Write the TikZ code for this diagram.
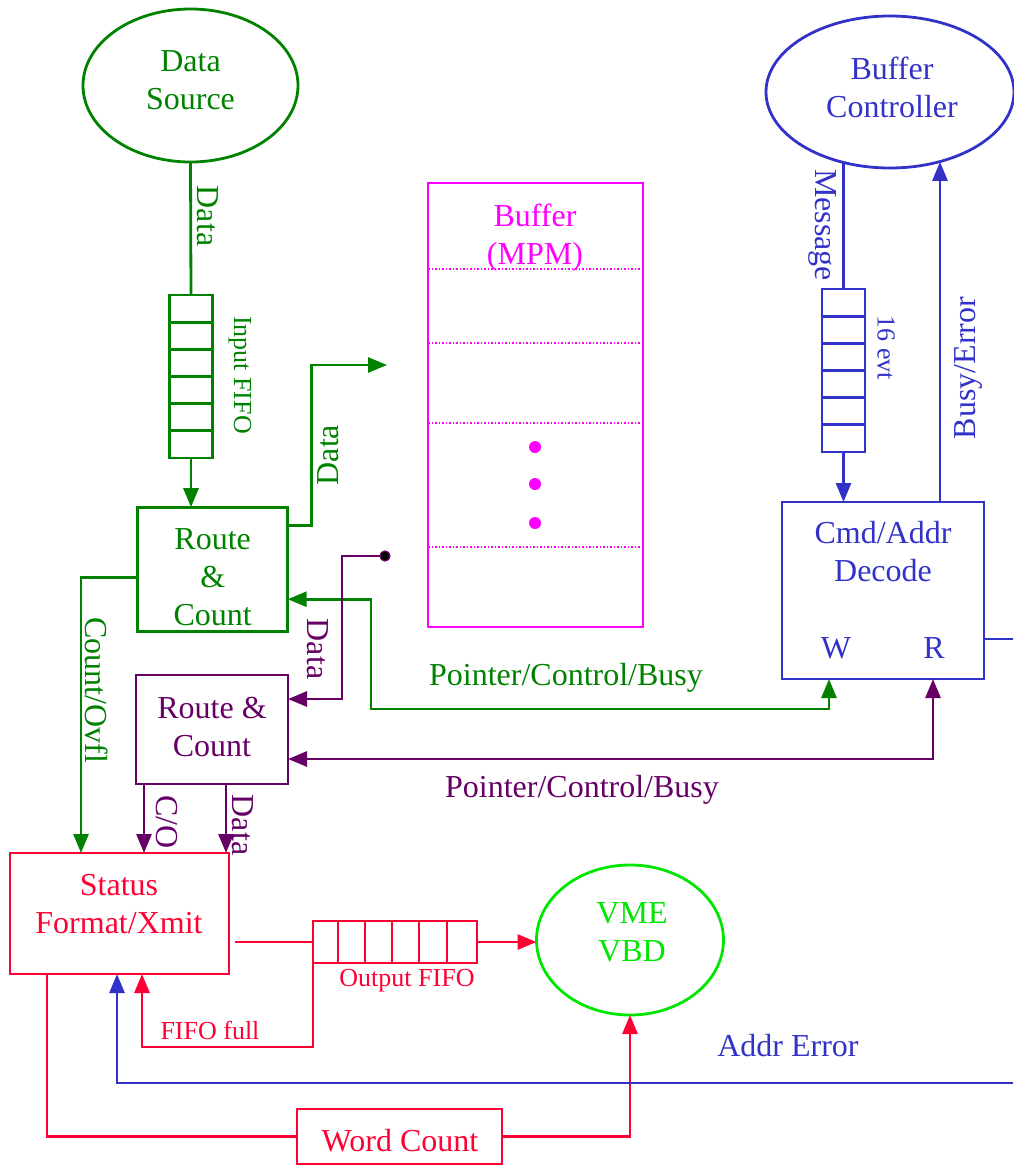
\documentclass[tikz,border=0pt]{standalone}
\usepackage{fontspec}
\setmainfont{Liberation Serif}
\usetikzlibrary{arrows.meta,shapes.geometric}
\definecolor{colG}{RGB}{0,130,0}
\definecolor{colP}{RGB}{102,0,102}
\definecolor{colB}{RGB}{50,50,200}
\definecolor{colR}{RGB}{255,0,51}
\definecolor{colM}{RGB}{255,0,255}
\definecolor{colV}{RGB}{0,230,0}
\begin{document}
\begin{tikzpicture}[x=1pt,y=-1pt,
  every node/.style={inner sep=0pt, outer sep=0pt},
  ln/.style={line width=2.8pt},
  tipend/.style={-{Triangle[length=19pt,width=15pt]}},
  tipboth/.style={{Triangle[length=19pt,width=15pt]}-{Triangle[length=19pt,width=15pt]}},
  bigt/.style={font=\fontsize{32}{38}\selectfont, align=center},
  smallt/.style={font=\fontsize{26}{30}\selectfont, align=center},
  box/.style={draw, rectangle, line width=2.8pt},
  ell/.style={draw, ellipse, line width=2.8pt},
  dotl/.style={line width=1.6pt, dash pattern=on 1.5pt off 2pt},
]
\useasboundingbox (0,0) rectangle (1013,1165);

% ---------- nodes ----------
\node[ell, draw=colG, minimum width=215pt, minimum height=153pt] (ds) at (190.5,85.5) {};
\node[bigt, text=colG] (dst) at (190.5,80) {Data\\Source};
\node[box, draw=colG, minimum width=43pt, minimum height=163pt] (ififo) at (191,376.5) {};
\node[box, draw=colG, minimum width=150pt, minimum height=124pt] (rc1) at (212.7,569.2) {};
\node[bigt, text=colG] (rc1t) at (212.7,577) {Route\\\&\\Count};

\node[box, draw=colP, minimum width=152pt, minimum height=109pt] (rc2) at (212,729.5) {};
\node[bigt, text=colP] (rc2t) at (212,727) {Route \&\\Count};

\node[box, draw=colR, minimum width=219pt, minimum height=121pt] (status) at (119.5,913.5) {};
\node[bigt, text=colR] (statust) at (119,904) {Status\\Format/Xmit};

\node[box, draw=colR, minimum width=164pt, minimum height=42pt] (ofifo) at (395,942) {};
\node[ell, draw=colV, minimum width=187pt, minimum height=150pt] (vme) at (630,940) {};
\node[bigt, text=colV] (vmet) at (632,932) {VME\\VBD};
\node[box, draw=colR, minimum width=205pt, minimum height=55pt] (wc) at (399.5,1136.5) {};
\node[bigt, text=colR] (wct) at (400,1141) {Word Count};

\node[box, draw=colM, minimum width=215pt, minimum height=444pt] (buf) at (535.5,405) {};
\node[bigt, text=colM] (buft) at (535,238) {Buffer\\(MPM)};

\node[ell, draw=colB, minimum width=248pt, minimum height=152pt] (bc) at (890,92) {};
\node[bigt, text=colB] (bct) at (892,87) {Buffer\\Controller};
\node[box, draw=colB, minimum width=43pt, minimum height=163pt] (mfifo) at (843.5,370.5) {};
\node[box, draw=colB, minimum width=202pt, minimum height=177pt] (cmd) at (883,590.5) {};
\node[bigt, text=colB] (cmdt) at (883,552) {Cmd/Addr\\Decode};
\node[bigt, text=colB] (wl) at (836,648) {W};
\node[bigt, text=colB] (rl) at (934,648) {R};

% ---------- FIFO cells ----------
\foreach \i in {1,...,5} {
  \draw[ln, draw=colG] ([yshift=-\i*27.17pt]ififo.north west) -- ([yshift=-\i*27.17pt]ififo.north east);
  \draw[ln, draw=colB] ([yshift=-\i*27.17pt]mfifo.north west) -- ([yshift=-\i*27.17pt]mfifo.north east);
}
\foreach \d in {25,52,79,106,134} {
  \draw[ln, draw=colR] ([xshift=\d pt]ofifo.north west) -- ([xshift=\d pt]ofifo.south west);
}

% ---------- buffer contents ----------
\foreach \d in {86,160,240,364} {
  \draw[dotl, draw=colM] ([yshift=-\d pt]buf.north west) -- ([yshift=-\d pt]buf.north east);
}
\fill[fill=colM] (535,447) circle (6pt);
\fill[fill=colM] (535,484) circle (6pt);
\fill[fill=colM] (535,523) circle (6pt);

% ---------- coordinates ----------
\coordinate (bufin) at (387,365);
\coordinate (covl) at (81,0);
\coordinate (pdot) at (385,556);
\coordinate (gmid) at (371,709);
\coordinate (ffc) at (142,1047);
\coordinate (aeR) at (1013,1083);
\coordinate (cmdout) at (1013,639);

% ---------- green connectors ----------
\draw[ln, draw=colG] (ds.south) -- (ififo.north);
\draw[ln, color=colG, tipend] (ififo.south) -- (ififo.south |- rc1.north);
\draw[ln, color=colG, tipend] ([yshift=44pt]rc1.east) -- ++(24,0) |- (bufin);
\draw[ln, color=colG, tipend] ([yshift=-8pt]rc1.west) -| (covl |- status.north);
\draw[ln, color=colG, tipboth] ([yshift=-30pt]rc1.east) -| (gmid) -| ([xshift=-54pt]cmd.south);

% ---------- purple connectors ----------
\draw[ln, color=colP, tipend] (pdot) -- ++(-43,0) |- ([yshift=30.5pt]rc2.east);
\filldraw[fill=black, draw=colP, line width=1.2pt] (pdot) circle (5pt);
\draw[ln, color=colP, tipboth] ([yshift=-29.5pt]rc2.east) -| ([xshift=50pt]cmd.south);
\draw[ln, color=colP, tipend] ([xshift=-68pt]rc2.south) -- ([xshift=-68pt]rc2.south |- status.north);
\draw[ln, color=colP, tipend] ([xshift=14pt]rc2.south) -- ([xshift=14pt]rc2.south |- status.north);

% ---------- red connectors ----------
\draw[ln, color=colR, shorten <=6pt] (status.east |- ofifo.west) -- (ofifo.west);
\draw[ln, color=colR, tipend] (ofifo.east) -- (ofifo.east -| vme.west);
\draw[ln, color=colR, tipend] (ofifo.south west) |- (ffc) -- (ffc |- status.south);
\draw[ln, color=colR] ([xshift=-72.5pt]status.south) |- (wc.west);
\draw[ln, color=colR, tipend] (wc.east) -| (vme.south);

% ---------- blue connectors ----------
\draw[ln, color=colB, tipend] (aeR) -| ([xshift=-2.5pt]status.south);
\draw[ln, color=colB] (mfifo.north) -- (mfifo.north |- bc.236);
\draw[ln, color=colB, tipend] (mfifo.south) -- (mfifo.south |- cmd.north);
\draw[ln, color=colB, tipend] ([xshift=57pt]cmd.north) -- ([xshift=57pt]cmd.north |- bc.305.7);
\draw[ln, color=colB] (cmdout -| cmd.east) -- (cmdout);

% ---------- labels ----------
\node[bigt, text=colG, rotate=-90] (l1) at (208,216) {Data};
\node[smallt, text=colG, rotate=-90] (l2) at (240,375) {Input FIFO};
\node[bigt, text=colG, rotate=90] (l3) at (328,455) {Data};
\node[bigt, text=colG, rotate=-90] (l4) at (97,690) {Count/Ovfl};
\node[bigt, text=colG] (l5) at (566,678) {Pointer/Control/Busy};
\node[bigt, text=colP, rotate=-90] (l6) at (318,649) {Data};
\node[bigt, text=colP, rotate=-90] (l7) at (167,822) {C/O};
\node[bigt, text=colP, rotate=-90] (l8) at (243,825) {Data};
\node[bigt, text=colP] (l9) at (582,790) {Pointer/Control/Busy};
\node[smallt, text=colR] (l10) at (407,981) {Output FIFO};
\node[smallt, text=colR] (l11) at (210,1030) {FIFO full};
\node[bigt, text=colB] (l12) at (788,1046) {Addr Error};
\node[bigt, text=colB, rotate=-90] (l13) at (823,225) {Message};
\node[smallt, text=colB, rotate=-90] (l14) at (886,348) {16 evt};
\node[bigt, text=colB, rotate=90] (l15) at (968,368) {Busy/Error};
\end{tikzpicture}
\end{document}
